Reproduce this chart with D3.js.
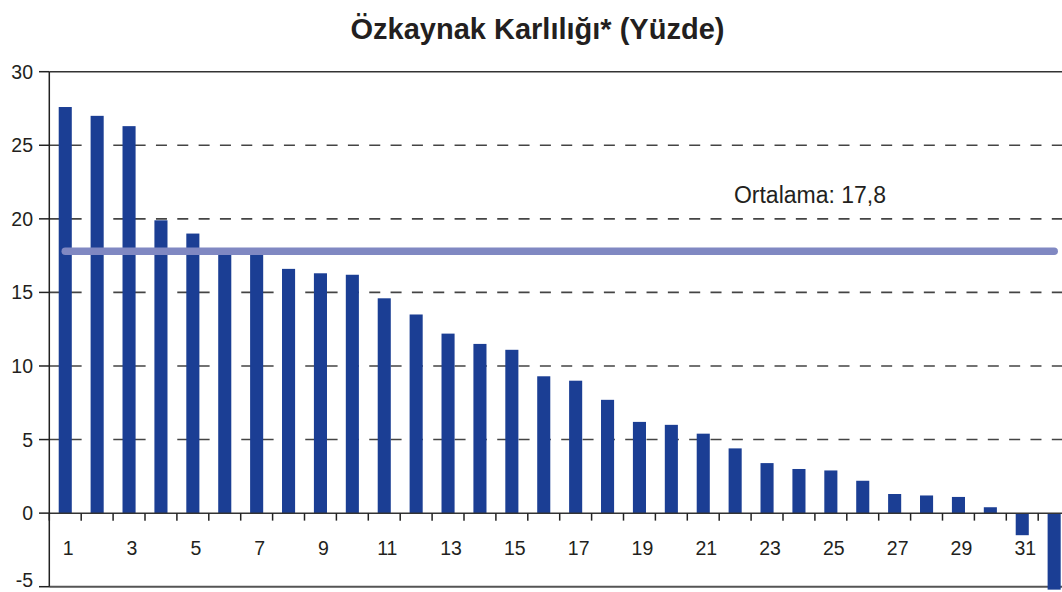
<!DOCTYPE html>
<html><head><meta charset="utf-8">
<script src="https://cdn.jsdelivr.net/npm/d3@7"></script>
<style>body{margin:0;background:#fff}svg{display:block}text{font-family:"Liberation Sans",Arial,Helvetica,sans-serif;fill:#231f20}</style>
</head><body>
<svg id="c" width="1062" height="592"></svg>
<script>
const categories = d3.range(1, 33);
const values = [27.6, 27.0, 26.3, 19.9, 19.0, 17.8, 17.7, 16.6, 16.3, 16.2, 14.6, 13.5, 12.2, 11.5, 11.1, 9.3,
  9.0, 7.7, 6.2, 6.0, 5.4, 4.4, 3.4, 3.0, 2.9, 2.2, 1.3, 1.2, 1.1, 0.4, -1.5, -5.2];
const yTicks = [-5, 0, 5, 10, 15, 20, 25, 30];
const xTickLabels = categories.filter(d => d % 2 === 1);
const average = 17.8;
const title = "Özkaynak Karlılığı* (Yüzde)";
const avgLabel = "Ortalama: 17,8";

const svg = d3.select("#c");
const pLeft = 49.3, pRight = 1070.1, pTop = 71.7, pBottom = 586.7;
const x = d3.scaleBand().domain(categories).range([pLeft, pRight]).paddingInner(0.59).paddingOuter(0.295);
const y = d3.scaleLinear().domain([-5, 30]).range([pBottom, pTop]);
const step = x.step();

// gridlines
svg.append("g").selectAll("line").data(yTicks.filter(d => d > 0 && d < 30)).join("line")
  .attr("x1", pLeft).attr("x2", 1062).attr("y1", d => y(d)).attr("y2", d => y(d))
  .attr("stroke", "#444").attr("stroke-width", 1.6).attr("stroke-dasharray", "11,10.33");

// frame top & bottom
svg.append("line").attr("x1", pLeft).attr("x2", 1062).attr("y1", y(30)).attr("y2", y(30)).attr("stroke", "#333").attr("stroke-width", 1.5);
svg.append("line").attr("x1", pLeft).attr("x2", 1062).attr("y1", y(-5)).attr("y2", y(-5)).attr("stroke", "#555").attr("stroke-width", 2);

// bars
svg.append("g").selectAll("rect").data(values).join("rect")
  .attr("x", (d, i) => x(categories[i]))
  .attr("width", x.bandwidth())
  .attr("y", d => y(Math.max(0, d)))
  .attr("height", d => Math.abs(y(d) - y(0)))
  .attr("fill", "#1b3e94");

// x axis at zero
svg.append("line").attr("x1", pLeft).attr("x2", 1062).attr("y1", y(0)).attr("y2", y(0)).attr("stroke", "#333").attr("stroke-width", 1.5);
svg.append("g").selectAll("line").data(d3.range(0, 33)).join("line")
  .attr("x1", k => pLeft + k * step).attr("x2", k => pLeft + k * step)
  .attr("y1", y(0)).attr("y2", y(0) + 7.5).attr("stroke", "#222").attr("stroke-width", 1.5);
svg.append("g").selectAll("text").data(xTickLabels).join("text")
  .attr("x", d => x(d) + x.bandwidth() / 2 + 3).attr("y", y(0) + 42)
  .attr("text-anchor", "middle").attr("font-size", 19.5).text(d => d);

// y axis
svg.append("line").attr("x1", pLeft).attr("x2", pLeft).attr("y1", pTop).attr("y2", pBottom).attr("stroke", "#222").attr("stroke-width", 1.5);
svg.append("g").selectAll("line").data(yTicks).join("line")
  .attr("x1", 39).attr("x2", pLeft).attr("y1", d => y(d)).attr("y2", d => y(d)).attr("stroke", "#222").attr("stroke-width", 1.5);
svg.append("g").selectAll("text").data(yTicks).join("text")
  .attr("x", 33).attr("y", d => Math.min(y(d) + 7, 587))
  .attr("text-anchor", "end").attr("font-size", 19.5).text(d => d);

// average line
svg.append("line")
  .attr("x1", x(categories[0]) + x.bandwidth() / 2).attr("x2", x(categories[categories.length - 1]) + x.bandwidth() / 2)
  .attr("y1", y(average)).attr("y2", y(average))
  .attr("stroke", "#8088c2").attr("stroke-width", 7.5).attr("stroke-linecap", "round");
svg.append("text").attr("x", 810).attr("y", 203).attr("text-anchor", "middle").attr("font-size", 23).text(avgLabel);

// title
svg.append("text").attr("x", 537.5).attr("y", 39).attr("text-anchor", "middle").attr("font-size", 29).attr("font-weight", "bold").text(title);
</script>
</body></html>
